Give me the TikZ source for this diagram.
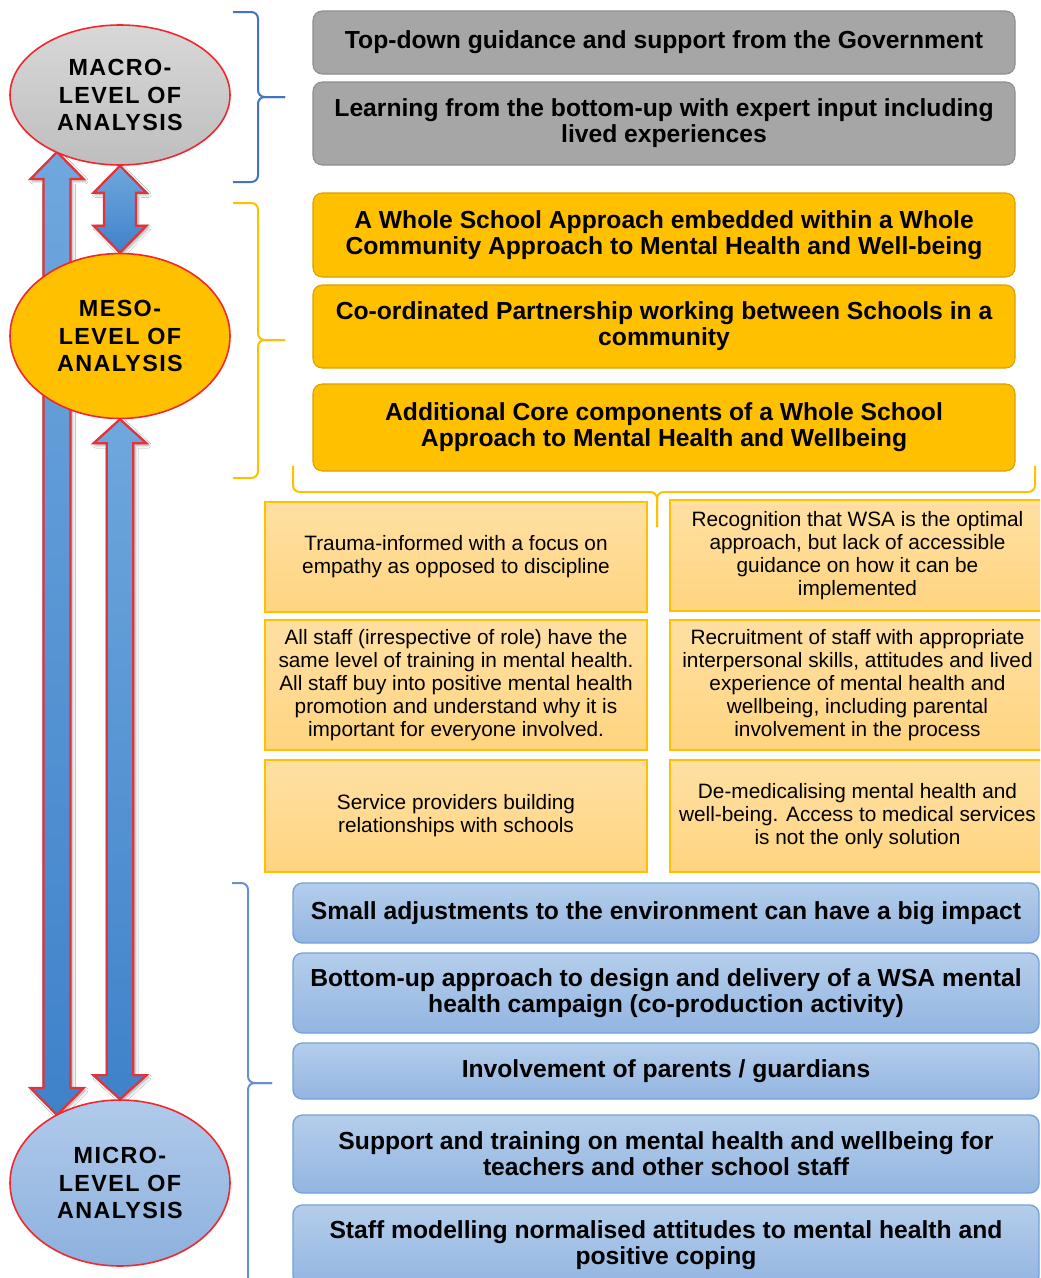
\documentclass[tikz,border=0pt]{standalone}
\usepackage{fontspec}
\setmainfont{Liberation Sans}
\usetikzlibrary{shapes.geometric,shadows.blur,calc}
\definecolor{gold}{HTML}{FFC000}
\definecolor{golddark}{HTML}{D9A000}
\definecolor{greybox}{HTML}{A6A6A6}
\definecolor{greyline}{HTML}{8E8E8E}
\definecolor{lorangeT}{HTML}{FFE0A3}
\definecolor{lorangeB}{HTML}{FFD480}
\definecolor{lblueT}{HTML}{B4CEEB}
\definecolor{lblueB}{HTML}{93B5E1}
\definecolor{lblueline}{HTML}{75A1D8}
\definecolor{arrT}{HTML}{6FA7DD}
\definecolor{arrB}{HTML}{3F82CA}
\definecolor{redline}{HTML}{F0282E}
\definecolor{arrline}{HTML}{E0343C}
\definecolor{bracebl}{HTML}{4472C4}
\definecolor{bracebl2}{HTML}{6A8FD0}
\definecolor{ellgrT}{HTML}{D8D8D8}
\definecolor{ellgrB}{HTML}{BEBEBE}
\definecolor{ellblT}{HTML}{B0CAEA}
\definecolor{ellblB}{HTML}{8DB1DE}
\pgfdeclarelayer{background}
\pgfsetlayers{background,main}
\newcommand{\dblarrow}[5]{%
  \path[arrowbody] let \p1=(#1), \p2=(#2) in
    (\x1,\y1) -- (\x1+#4,\y1-#5) -- (\x1+#3,\y1-#5) -- (\x1+#3,\y2+#5) -- (\x1+#4,\y2+#5) -- (\x1,\y2)
    -- (\x1-#4,\y2+#5) -- (\x1-#3,\y2+#5) -- (\x1-#3,\y1-#5) -- (\x1-#4,\y1-#5) -- cycle;}
\begin{document}
\begin{tikzpicture}[x=0.75pt,y=-0.75pt,
  level/.style={ellipse, draw=redline, line width=1.2pt, inner sep=0pt, align=center,
    minimum width=165pt, font=\bfseries\fontsize{17.5}{20.6}\selectfont\addfontfeature{LetterSpace=6}},
  boldbox/.style={rounded corners=7pt, align=center, inner sep=0pt, minimum width=526.5pt,
    font=\bfseries\fontsize{18.5}{19.5}\selectfont},
  greyb/.style={boldbox, fill=greybox, draw=greyline, line width=0.8pt},
  goldb/.style={boldbox, fill=gold, draw=golddark, line width=0.8pt},
  blueb/.style={boldbox, top color=lblueT, bottom color=lblueB, draw=lblueline, line width=1pt, minimum width=559.5pt},
  lorange/.style={top color=lorangeT, bottom color=lorangeB, draw=gold, line width=1.3pt, align=center, inner sep=0pt,
    font=\fontsize{15.6}{17.25}\selectfont},
  arrowbody/.style={top color=arrT, bottom color=arrB, draw=arrline, line width=1.7pt, line join=miter,
    blur shadow={shadow xshift=1.5pt, shadow yshift=-1.5pt, shadow opacity=35, shadow blur steps=6}},
  brace/.style={line width=1.5pt, rounded corners=5pt}
]
\clip (0,0) rectangle (1040,1278);
\useasboundingbox (0,0) rectangle (1040,1278);

% level ellipses
\node[level, minimum height=105pt, top color=ellgrT, bottom color=ellgrB] (macro) at (120,95) {MACRO-\\LEVEL OF\\ANALYSIS};
\node[level, minimum height=123.75pt, fill=gold] (meso) at (120,336) {MESO-\\LEVEL OF\\ANALYSIS};
\node[level, minimum height=124.5pt, top color=ellblT, bottom color=ellblB] (micro) at (120,1183) {MICRO-\\LEVEL OF\\ANALYSIS};

\coordinate (LT) at (57,152);
\coordinate (LB) at (57,1115);

% arrows (behind ellipses)
\begin{pgfonlayer}{background}
\fill[white] (0,0) rectangle (1040,1278);
\dblarrow{LT}{LB}{10.1pt}{19.9pt}{20.25pt}
\dblarrow{macro.south}{meso.north}{12pt}{19.9pt}{20.25pt}
\dblarrow{meso.south}{micro.north}{10pt}{19.9pt}{18pt}
\end{pgfonlayer}

% macro boxes
\node[greyb, minimum height=47.25pt] (g1) at (664,42.5) {Top-down guidance and support from the Government};
\node[greyb, minimum height=62.25pt] (g2) at (664,123.5) {Learning from the bottom-up with expert input including\\lived experiences};

% meso boxes
\node[goldb, minimum height=63pt] (y1) at (664,235) {A Whole School Approach embedded within a Whole\\Community Approach to Mental Health and Well-being};
\node[goldb, minimum height=62.25pt] (y2) at (664,326.5) {Co-ordinated Partnership working between Schools in a\\community};
\node[goldb, minimum height=65.25pt] (y3) at (664,427.5) {Additional Core components of a Whole School\\Approach to Mental Health and Wellbeing};

% core components
\node[lorange, minimum width=286.5pt, minimum height=82.5pt] (c1) at (456,557) {Trauma-informed with a focus on\\empathy as opposed to discipline};
\node[lorange, minimum width=281.25pt, minimum height=83.25pt] (c2) at (857.5,555.5) {Recognition that WSA is the optimal\\approach, but lack of accessible\\guidance on how it can be\\implemented};
\node[lorange, minimum width=286.5pt, minimum height=97.5pt] (c3) at (456,685) {All staff (irrespective of role) have the\\same level of training in mental health.\\All staff buy into positive mental health\\promotion and understand why it is\\important for everyone involved.};
\node[lorange, minimum width=281.25pt, minimum height=97.5pt] (c4) at (857.5,685) {Recruitment of staff with appropriate\\interpersonal skills, attitudes and lived\\experience of mental health and\\wellbeing, including parental\\involvement in the process};
\node[lorange, minimum width=286.5pt, minimum height=84pt] (c5) at (456,816) {Service providers building\\relationships with schools};
\node[lorange, minimum width=281.25pt, minimum height=84pt] (c6) at (857.5,816) {De-medicalising mental health and\\well-being. Access to medical services\\is not the only solution};

% micro boxes
\node[blueb, minimum height=45pt] (b1) at (666,913) {Small adjustments to the environment can have a big impact};
\node[blueb, minimum height=60pt] (b2) at (666,993) {Bottom-up approach to design and delivery of a WSA mental\\health campaign (co-production activity)};
\node[blueb, minimum height=42pt] (b3) at (666,1071) {Involvement of parents / guardians};
\node[blueb, minimum height=58.5pt] (b4) at (666,1154) {Support and training on mental health and wellbeing for\\teachers and other school staff};
\node[blueb, minimum height=60pt] (b5) at (666,1245) {Staff modelling normalised attitudes to mental health and\\positive coping};

% braces
\draw[brace, bracebl] (233,12) -- (258,12) -- (258,97) -- (285,97);
\draw[brace, bracebl] (285,97) -- (258,97) -- (258,182) -- (233,182);
\draw[brace, gold] (233,203) -- (258,203) -- (258,340) -- (285,340);
\draw[brace, gold] (285,340) -- (258,340) -- (258,478) -- (233,478);
\draw[brace, gold] (293,466) -- (293,492) -- (657,492) -- (657,527);
\draw[brace, gold] (657,527) -- (657,492) -- (1035,492) -- (1035,466);
\draw[brace, bracebl2] (232,883) -- (248,883) -- (248,1083) -- (272,1083);
\draw[brace, bracebl2] (272,1083) -- (248,1083) -- (248,1295) -- (232,1295);
\end{tikzpicture}
\end{document}
